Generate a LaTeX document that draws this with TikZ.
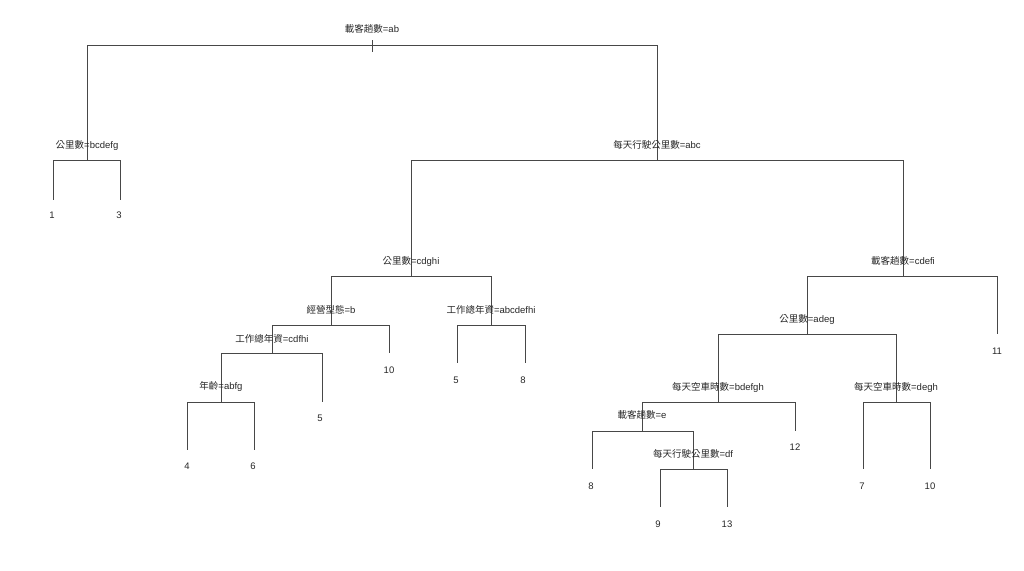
\documentclass[tikz,border=0pt]{standalone}
\usepackage{fontspec}
\setmainfont{Liberation Sans}
\newfontfamily\cjk{Noto Sans CJK TC}
\begin{document}
\begin{tikzpicture}[x=1pt,y=-1pt,
  edge/.style={draw=black!72,line width=0.8pt},
  lab/.style={inner sep=0pt,font=\fontsize{9.5}{10}\selectfont,text=black!85}]
\useasboundingbox (0,0) rectangle (1024,570);
% tree points (x, bar y) for internal nodes, (x, end y) for leaves
\coordinate (r) at (372,45);
\coordinate (a) at (87,160);
\coordinate (l1) at (53,200);
\coordinate (l3) at (120,200);
\coordinate (b) at (657,160);
\coordinate (c) at (411,276);
\coordinate (d) at (331,325);
\coordinate (e) at (272,353);
\coordinate (f) at (221,402);
\coordinate (l4) at (187,450);
\coordinate (l6) at (254,450);
\coordinate (l5a) at (322,402);
\coordinate (l10a) at (389,353);
\coordinate (g) at (491,325);
\coordinate (l5b) at (457,363);
\coordinate (l8a) at (525,363);
\coordinate (h) at (903,276);
\coordinate (i) at (807,334);
\coordinate (l11) at (997,334);
\coordinate (j) at (718,402);
\coordinate (k) at (642,431);
\coordinate (l8b) at (592,469);
\coordinate (m) at (693,469);
\coordinate (l9) at (660,507);
\coordinate (l13) at (727,507);
\coordinate (l12) at (795,431);
\coordinate (n) at (896,402);
\coordinate (l7) at (863,469);
\coordinate (l10b) at (930,469);
\coordinate (rt) at (372,40);
\coordinate (rb) at (372,52);
% connectors
\draw[edge] (rt) -- (rb);
\foreach \p/\c in {r/a,r/b,a/l1,a/l3,b/c,b/h,c/d,c/g,d/e,d/l10a,e/f,e/l5a,f/l4,f/l6,
  g/l5b,g/l8a,h/i,h/l11,i/j,i/n,j/k,j/l12,k/l8b,k/m,m/l9,m/l13,n/l7,n/l10b}
  \draw[edge] (\p) -| (\c);
% split labels
\node[lab] (tr) at (372,29) {{\cjk 載客趟數}=ab};
\node[lab] (ta) at (87,145) {{\cjk 公里數}=bcdefg};
\node[lab] (tb) at (657,145) {{\cjk 每天行駛公里數}=abc};
\node[lab] (tc) at (411,261) {{\cjk 公里數}=cdghi};
\node[lab] (td) at (331,310) {{\cjk 經營型態}=b};
\node[lab] (te) at (272,339) {{\cjk 工作總年資}=cdfhi};
\node[lab] (tf) at (221,386) {{\cjk 年齡}=abfg};
\node[lab] (tg) at (491,310) {{\cjk 工作總年資}=abcdefhi};
\node[lab] (th) at (903,261) {{\cjk 載客趟數}=cdefi};
\node[lab] (ti) at (807,319) {{\cjk 公里數}=adeg};
\node[lab] (tj) at (718,387) {{\cjk 每天空車時數}=bdefgh};
\node[lab] (tk) at (642,415) {{\cjk 載客趟數}=e};
\node[lab] (tm) at (693,454) {{\cjk 每天行駛公里數}=df};
\node[lab] (tn) at (896,387) {{\cjk 每天空車時數}=degh};
% leaf labels
\node[lab] (v1) at (52,215) {1};
\node[lab] (v3) at (119,215) {3};
\node[lab] (v4) at (187,466) {4};
\node[lab] (v6) at (253,466) {6};
\node[lab] (v5a) at (320,418) {5};
\node[lab] (v10a) at (389,370) {10};
\node[lab] (v5b) at (456,380) {5};
\node[lab] (v8a) at (523,380) {8};
\node[lab] (v11) at (997,351) {11};
\node[lab] (v8b) at (591,486) {8};
\node[lab] (v12) at (795,447) {12};
\node[lab] (v9) at (658,524) {9};
\node[lab] (v13) at (727,524) {13};
\node[lab] (v7) at (862,486) {7};
\node[lab] (v10b) at (930,486) {10};
\end{tikzpicture}
\end{document}
